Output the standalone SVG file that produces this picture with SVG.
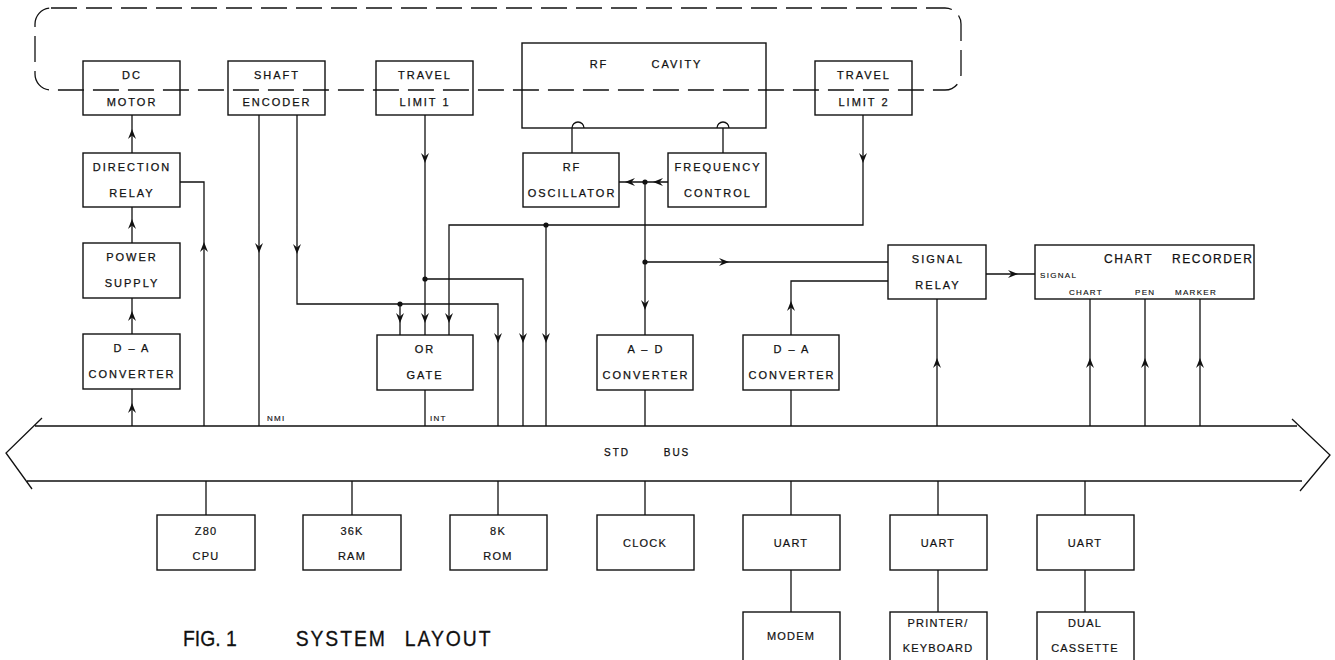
<svg xmlns="http://www.w3.org/2000/svg" xmlns:xlink="http://www.w3.org/1999/xlink" width="1335" height="660" viewBox="0 0 1335 660">
<style>
.bx{fill:none;stroke:#111;stroke-width:1.4}
.ln{fill:none;stroke:#111;stroke-width:1.3}
.t{font-family:"Liberation Sans",Arial,sans-serif;font-size:11px;letter-spacing:2px;text-anchor:middle;fill:#111;stroke:#111;stroke-width:0.25}
.tb{font-family:"Liberation Sans",Arial,sans-serif;font-size:11px;letter-spacing:1.2px;text-anchor:middle;fill:#111;stroke:#111;stroke-width:0.2}
.s{font-family:"Liberation Sans",Arial,sans-serif;font-size:8px;letter-spacing:1.3px;fill:#111;stroke:#111;stroke-width:0.15}
.ttl{font-family:"Liberation Sans",Arial,sans-serif;font-size:22px;fill:#111;stroke:#111;stroke-width:0.3}
</style>
<defs>
<path id="ah" d="M0,0 L-10,-4 L-6.5,0 L-10,4 Z" fill="#111"/>
</defs>
<rect x="0" y="0" width="1335" height="660" fill="#fff"/>

<g id="enclosure">
<rect x="35" y="8" width="926" height="82" rx="16" ry="16" fill="none" stroke="#111" stroke-width="1.3" stroke-dasharray="26 9"/>
</g>

<g id="dc-motor"><rect class="bx" x="83" y="61" width="97" height="54"/><text class="t" x="132" y="79">DC</text><text class="t" x="132" y="106">MOTOR</text></g>
<g id="shaft-encoder"><rect class="bx" x="228" y="61" width="97" height="54"/><text class="t" x="277" y="79">SHAFT</text><text class="t" x="277" y="106">ENCODER</text></g>
<g id="travel-limit-1"><rect class="bx" x="376" y="61" width="97" height="54"/><text class="t" x="425" y="79">TRAVEL</text><text class="t" x="425" y="106">LIMIT 1</text></g>
<g id="rf-cavity"><rect class="bx" x="522" y="43" width="244" height="85"/><text class="t" x="599" y="68">RF</text><text class="t" x="677" y="68">CAVITY</text>
<path class="ln" d="M572,128 A6,6 0 0 1 584,128 M717,128 A6,6 0 0 1 729,128"/></g>
<g id="travel-limit-2"><rect class="bx" x="815" y="61" width="97" height="54"/><text class="t" x="864" y="79">TRAVEL</text><text class="t" x="864" y="106">LIMIT 2</text></g>
<g id="rf-oscillator"><rect class="bx" x="523" y="153" width="96" height="54"/><text class="t" x="572" y="171">RF</text><text class="t" x="572" y="197">OSCILLATOR</text></g>
<g id="frequency-control"><rect class="bx" x="668" y="153" width="98" height="54"/><text class="t" x="718" y="171">FREQUENCY</text><text class="t" x="718" y="197">CONTROL</text></g>
<g id="direction-relay"><rect class="bx" x="83" y="153" width="97" height="54"/><text class="t" x="132" y="171">DIRECTION</text><text class="t" x="132" y="197">RELAY</text></g>
<g id="power-supply"><rect class="bx" x="83" y="243" width="97" height="55"/><text class="t" x="132" y="261">POWER</text><text class="t" x="132" y="287">SUPPLY</text></g>
<g id="da-converter-1"><rect class="bx" x="83" y="334" width="97" height="55"/><text class="t" x="132" y="352">D – A</text><text class="t" x="132" y="378">CONVERTER</text></g>
<g id="or-gate"><rect class="bx" x="377" y="335" width="96" height="55"/><text class="t" x="425" y="353">OR</text><text class="t" x="425" y="379">GATE</text></g>
<g id="ad-converter"><rect class="bx" x="597" y="335" width="96" height="55"/><text class="t" x="646" y="353">A – D</text><text class="t" x="646" y="379">CONVERTER</text></g>
<g id="da-converter-2"><rect class="bx" x="743" y="335" width="96" height="55"/><text class="t" x="792" y="353">D – A</text><text class="t" x="792" y="379">CONVERTER</text></g>
<g id="signal-relay"><rect class="bx" x="888" y="245" width="98" height="54"/><text class="t" x="938" y="263">SIGNAL</text><text class="t" x="938" y="289">RELAY</text></g>
<g id="chart-recorder"><rect class="bx" x="1035" y="245" width="219" height="54"/>
<text class="t" x="1104" y="263" style="text-anchor:start;font-size:12px;letter-spacing:1.6px">CHART</text>
<text class="t" x="1172" y="263" style="text-anchor:start;font-size:12px;letter-spacing:1.6px">RECORDER</text>
<text class="s" x="1040" y="278">SIGNAL</text>
<text class="s" x="1069" y="295">CHART</text>
<text class="s" x="1135" y="295">PEN</text>
<text class="s" x="1175" y="295">MARKER</text></g>

<g id="std-bus">
<path class="ln" d="M35,426 H1297 M27,481 H1302 M42,418 L6,453 L32,489 M1292,419 L1330,455 L1300,491"/>
<text class="t" x="617" y="456" style="font-size:10px">STD</text>
<text class="t" x="677" y="456" style="font-size:10px">BUS</text>
</g>

<g id="z80-cpu"><rect class="bx" x="157" y="515" width="98" height="55"/><text class="tb" x="206" y="535">Z80</text><text class="tb" x="206" y="560">CPU</text></g>
<g id="ram"><rect class="bx" x="303" y="515" width="98" height="55"/><text class="tb" x="352" y="535">36K</text><text class="tb" x="352" y="560">RAM</text></g>
<g id="rom"><rect class="bx" x="450" y="515" width="97" height="55"/><text class="tb" x="498" y="535">8K</text><text class="tb" x="498" y="560">ROM</text></g>
<g id="clock"><rect class="bx" x="597" y="515" width="97" height="55"/><text class="tb" x="645" y="547">CLOCK</text></g>
<g id="uart-1"><rect class="bx" x="743" y="515" width="97" height="55"/><text class="tb" x="791" y="547">UART</text></g>
<g id="uart-2"><rect class="bx" x="890" y="515" width="97" height="55"/><text class="tb" x="938" y="547">UART</text></g>
<g id="uart-3"><rect class="bx" x="1037" y="515" width="97" height="55"/><text class="tb" x="1085" y="547">UART</text></g>
<g id="modem"><rect class="bx" x="743" y="612" width="97" height="60"/><text class="tb" x="791" y="640">MODEM</text></g>
<g id="printer-keyboard"><rect class="bx" x="890" y="612" width="97" height="60"/><text class="tb" x="938" y="627">PRINTER/</text><text class="tb" x="938" y="652">KEYBOARD</text></g>
<g id="dual-cassette"><rect class="bx" x="1037" y="612" width="97" height="60"/><text class="tb" x="1085" y="627">DUAL</text><text class="tb" x="1085" y="652">CASSETTE</text></g>

<g id="connectors">
<path class="ln" d="M572,153 V128 M723,153 V128
M132,115 V153 M132,207 V243 M132,298 V334 M132,389 V426
M180,182 H204 V426
M259,115 V426
M297,115 V304 H498 V426
M400,304 V335
M425,115 V335
M425,279 H523 V426
M863,115 V225 H449 V335
M546,225 V426
M425,390 V426
M619,182 H668
M645,182 V335
M645,262 H888
M645,390 V426
M791,390 V426
M791,335 V281 H888
M937,299 V426
M986,274 H1035
M1090,299 V426 M1145,299 V426 M1200,299 V426
M206,481 V515 M352,481 V515 M498,481 V515 M645,481 V515 M791,481 V515 M938,481 V515 M1085,481 V515
M791,570 V612 M938,570 V612 M1085,570 V612"/>
<g fill="#111">
<circle cx="400" cy="304" r="2.6"/><circle cx="425" cy="279" r="2.6"/><circle cx="546" cy="225" r="2.6"/><circle cx="645" cy="182" r="2.6"/><circle cx="645" cy="262" r="2.6"/>
</g>
<use xlink:href="#ah" transform="translate(132,129) rotate(-90)"/>
<use xlink:href="#ah" transform="translate(132,219) rotate(-90)"/>
<use xlink:href="#ah" transform="translate(132,311) rotate(-90)"/>
<use xlink:href="#ah" transform="translate(132,403) rotate(-90)"/>
<use xlink:href="#ah" transform="translate(204,242) rotate(-90)"/>
<use xlink:href="#ah" transform="translate(791,301) rotate(-90)"/>
<use xlink:href="#ah" transform="translate(937,358) rotate(-90)"/>
<use xlink:href="#ah" transform="translate(1090,358) rotate(-90)"/>
<use xlink:href="#ah" transform="translate(1145,358) rotate(-90)"/>
<use xlink:href="#ah" transform="translate(1200,358) rotate(-90)"/>
<use xlink:href="#ah" transform="translate(259,253) rotate(90)"/>
<use xlink:href="#ah" transform="translate(297,254) rotate(90)"/>
<use xlink:href="#ah" transform="translate(425,163) rotate(90)"/>
<use xlink:href="#ah" transform="translate(863,163) rotate(90)"/>
<use xlink:href="#ah" transform="translate(400,323) rotate(90)"/>
<use xlink:href="#ah" transform="translate(425,323) rotate(90)"/>
<use xlink:href="#ah" transform="translate(449,323) rotate(90)"/>
<use xlink:href="#ah" transform="translate(498,343) rotate(90)"/>
<use xlink:href="#ah" transform="translate(523,343) rotate(90)"/>
<use xlink:href="#ah" transform="translate(546,343) rotate(90)"/>
<use xlink:href="#ah" transform="translate(645,310) rotate(90)"/>
<use xlink:href="#ah" transform="translate(625,182) rotate(180)"/>
<use xlink:href="#ah" transform="translate(653,182) rotate(180)"/>
<use xlink:href="#ah" transform="translate(729,262)"/>
<use xlink:href="#ah" transform="translate(1018,274)"/>
<text class="s" x="267" y="421">NMI</text>
<text class="s" x="430" y="421">INT</text>
</g>

<g id="caption" transform="scale(0.88,1)">
<text class="ttl" x="208" y="646">FIG. 1</text>
<text class="ttl" x="336" y="646" style="letter-spacing:2.2px">SYSTEM</text>
<text class="ttl" x="460" y="646" style="letter-spacing:2.2px">LAYOUT</text>
</g>
</svg>
